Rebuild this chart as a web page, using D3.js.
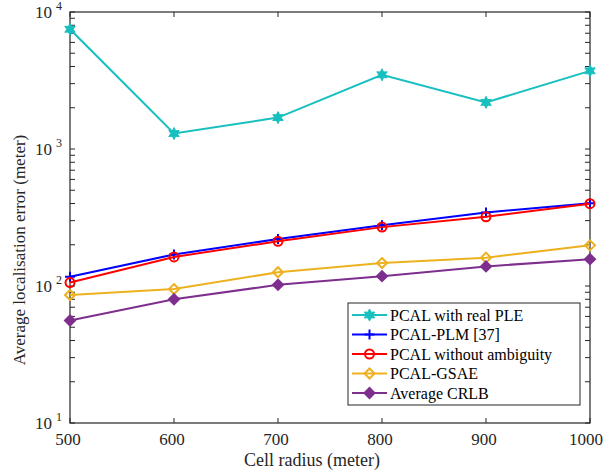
<!DOCTYPE html>
<html><head><meta charset="utf-8">
<script src="https://cdn.jsdelivr.net/npm/d3@7"></script>
<style>body{margin:0;background:#fff}svg{display:block}</style>
</head><body><div id="c"></div>
<script>
const radii = [500, 600, 700, 800, 900, 1000];
const seriesNames = ["PCAL with real PLE", "PCAL-PLM [37]", "PCAL without ambiguity", "PCAL-GSAE", "Average CRLB"];
const realPLE = [7480, 1297, 1695, 3480, 2190, 3720];
const plm = [117, 170, 220, 278, 344, 402];
const noAmbiguity = [106, 163, 212, 269, 320, 399];
const gsae = [86, 95, 126, 147, 161, 198];
const crlb = [56, 80, 102, 118, 139, 157];
const xTicks = [500, 600, 700, 800, 900, 1000];
const yTickExps = [1, 2, 3, 4];
const colors = ["#17BFBF", "#0000FF", "#FF0000", "#EDB120", "#7E2F8E"];
const markers = ["hexagram", "plus", "circle", "diamondOpen", "diamondFilled"];
const allSeries = [realPLE, plm, noAmbiguity, gsae, crlb];

const FONT = "'Liberation Serif','Times New Roman',serif";
const W = 605, H = 476;
const L = 70, R = 590, T = 12, B = 423;
const svg = d3.select("#c").append("svg").attr("width", W).attr("height", H).attr("font-family", FONT);
const x = d3.scaleLinear().domain([500, 1000]).range([L, R]);
const y = d3.scaleLog().domain([10, 10000]).range([B, T]);
const axisColor = "#262626";

const g = svg.append("g");
const minor = [];
for (let e = 1; e < 4; e++) for (let m = 2; m <= 9; m++) minor.push(m * Math.pow(10, e));
minor.forEach(v => {
  g.append("line").attr("x1", L).attr("x2", L + 5).attr("y1", y(v)).attr("y2", y(v)).attr("stroke", axisColor);
  g.append("line").attr("x1", R).attr("x2", R - 5).attr("y1", y(v)).attr("y2", y(v)).attr("stroke", axisColor);
});
yTickExps.forEach(e => {
  const v = Math.pow(10, e);
  g.append("line").attr("x1", L).attr("x2", L + 5).attr("y1", y(v)).attr("y2", y(v)).attr("stroke", axisColor);
  g.append("line").attr("x1", R).attr("x2", R - 5).attr("y1", y(v)).attr("y2", y(v)).attr("stroke", axisColor);
  const t = g.append("text").attr("x", L - 8).attr("y", y(v) + 6).attr("text-anchor", "end").attr("font-size", 17).attr("fill", axisColor).attr("font-family", FONT);
  t.append("tspan").text("10");
  t.append("tspan").attr("dx", 4).attr("dy", -8).attr("font-size", 12).text(e);
});
xTicks.forEach((v, i) => {
  g.append("line").attr("x1", x(v)).attr("x2", x(v)).attr("y1", B).attr("y2", B - 5).attr("stroke", axisColor);
  g.append("line").attr("x1", x(v)).attr("x2", x(v)).attr("y1", T).attr("y2", T + 5).attr("stroke", axisColor);
  const last = i === xTicks.length - 1;
  g.append("text").attr("x", last ? 603 : x(v) - 2).attr("y", B + 22)
    .attr("text-anchor", last ? "end" : "middle").attr("font-size", 17).attr("fill", axisColor).attr("font-family", FONT).text(v);
});
g.append("rect").attr("x", L).attr("y", T).attr("width", R - L).attr("height", B - T).attr("fill", "none").attr("stroke", axisColor).attr("stroke-width", 1.2);

svg.append("text").attr("x", 312).attr("y", 466).attr("text-anchor", "middle").attr("font-size", 18).attr("fill", axisColor).attr("font-family", FONT).text("Cell radius (meter)");
svg.append("text").attr("transform", `translate(25,250) rotate(-90)`).attr("text-anchor", "middle").attr("font-size", 17).attr("fill", axisColor).attr("font-family", FONT).text("Average localisation error (meter)");

function drawMarker(sel, type, cx, cy, color) {
  if (type === "hexagram") {
    const pts = [];
    for (let i = 0; i < 12; i++) {
      const r = i % 2 === 0 ? 6 : 3.2;
      const a = -Math.PI / 2 + i * Math.PI / 6;
      pts.push([cx + r * Math.cos(a), cy + r * Math.sin(a)]);
    }
    sel.append("polygon").attr("points", pts.map(p => p.join(",")).join(" ")).attr("fill", color).attr("stroke", color).attr("stroke-width", 1);
  } else if (type === "plus") {
    sel.append("path").attr("d", `M${cx - 5},${cy}H${cx + 5}M${cx},${cy - 5}V${cy + 5}`).attr("stroke", color).attr("stroke-width", 2);
  } else if (type === "circle") {
    sel.append("circle").attr("cx", cx).attr("cy", cy).attr("r", 4.5).attr("fill", "none").attr("stroke", color).attr("stroke-width", 2);
  } else {
    const d = 5;
    sel.append("path").attr("d", `M${cx},${cy - d}L${cx + d},${cy}L${cx},${cy + d}L${cx - d},${cy}Z`)
      .attr("fill", type === "diamondFilled" ? color : "none").attr("stroke", color).attr("stroke-width", 2);
  }
}

const line = d3.line().x((d, i) => x(radii[i])).y(d => y(d));
allSeries.forEach((s, k) => {
  const sg = svg.append("g");
  sg.append("path").datum(s).attr("d", line).attr("fill", "none").attr("stroke", colors[k]).attr("stroke-width", 2);
  s.forEach((v, i) => drawMarker(sg, markers[k], x(radii[i]), y(v), colors[k]));
});

const lg = svg.append("g");
lg.append("rect").attr("x", 348).attr("y", 303).attr("width", 232).attr("height", 102).attr("fill", "#fff").attr("stroke", axisColor).attr("stroke-width", 1);
seriesNames.forEach((n, k) => {
  const cy = 315 + k * 19.5;
  lg.append("line").attr("x1", 352).attr("x2", 387).attr("y1", cy).attr("y2", cy).attr("stroke", colors[k]).attr("stroke-width", 2);
  drawMarker(lg, markers[k], 369.5, cy, colors[k]);
  lg.append("text").attr("x", 390).attr("y", cy + 5.5).attr("font-size", 16).attr("fill", "#000").attr("font-family", FONT).text(n);
});
</script></body></html>
